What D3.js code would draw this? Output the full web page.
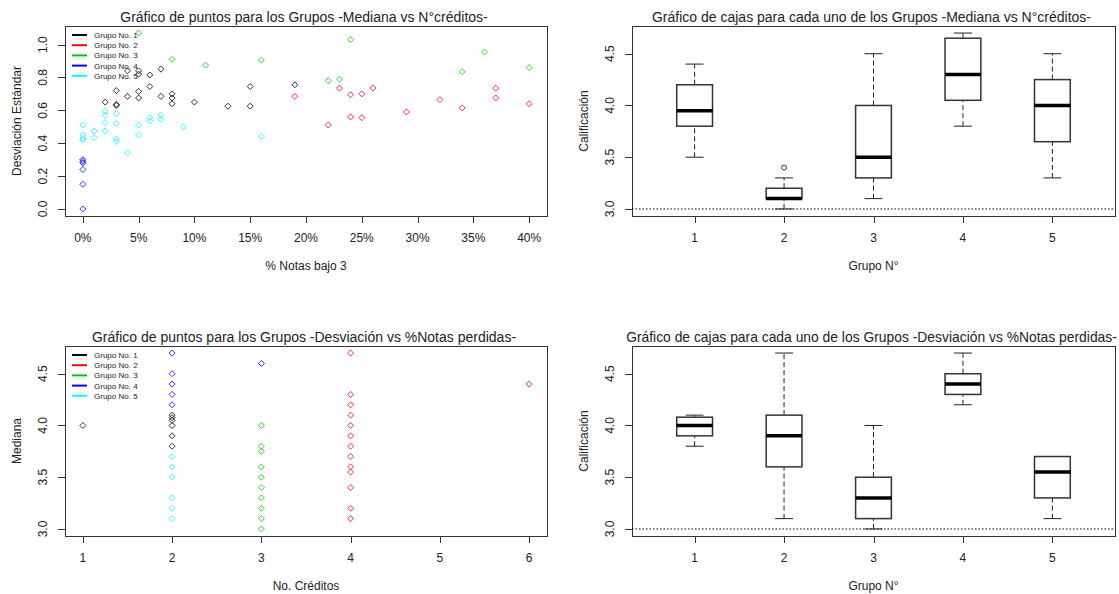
<!DOCTYPE html>
<html>
<head>
<meta charset="utf-8">
<script src="https://cdn.jsdelivr.net/npm/d3@7"></script>
<style>
body { margin: 0; background: #fff; }
text { font-family: "Liberation Sans", Arial, sans-serif; fill: #222; }
</style>
</head>
<body>
<script>
var grupos = ["Grupo No. 1", "Grupo No. 2", "Grupo No. 3", "Grupo No. 4", "Grupo No. 5"];
var colores = ["#000000", "#ff0000", "#00cd00", "#0000ff", "#00ffff"];

// Panel 1: % notas bajo 3 vs desviacion estandar, one list per group
var pctNotas = [
	[2, 3, 3, 3, 4, 4, 5, 5, 5, 5, 6, 6, 7, 7, 8, 8, 8, 10, 13, 15, 15, 19],
	[19, 22, 23, 24, 24, 25, 25, 26, 29, 32, 34, 37, 37, 40],
	[5, 8, 11, 16, 22, 23, 24, 34, 36, 40],
	[0, 0, 0, 0, 0, 0],
	[0, 0, 0, 0, 1, 1, 2, 2, 2, 2, 3, 3, 3, 3, 4, 5, 5, 6, 6, 7, 7, 9, 16]
];
var desviacion = [
	[0.65, 0.72, 0.635, 0.63, 0.685, 0.84, 0.84, 0.82, 0.715, 0.675, 0.815, 0.745, 0.85, 0.685, 0.70, 0.675, 0.64, 0.65, 0.625, 0.745, 0.625, 0.755],
	[0.685, 0.51, 0.735, 0.695, 0.56, 0.70, 0.555, 0.735, 0.59, 0.665, 0.615, 0.735, 0.675, 0.64],
	[1.07, 0.91, 0.875, 0.905, 0.78, 0.79, 1.03, 0.835, 0.955, 0.86],
	[0.0, 0.15, 0.24, 0.28, 0.29, 0.30],
	[0.51, 0.45, 0.43, 0.42, 0.475, 0.435, 0.595, 0.57, 0.525, 0.475, 0.58, 0.52, 0.425, 0.41, 0.34, 0.51, 0.45, 0.555, 0.535, 0.57, 0.545, 0.50, 0.44]
];

// Panel 3: numero de creditos vs mediana
var creditos = [
	[1, 2, 2, 2, 2, 2, 2],
	[4, 4, 4, 4, 4, 4, 4, 4, 4, 4, 4, 4, 4, 6],
	[3, 3, 3, 3, 3, 3, 3, 3, 3, 3],
	[2, 2, 2, 2, 2, 3],
	[2, 2, 2, 2, 2, 2]
];
var mediana = [
	[4.0, 4.1, 4.075, 4.05, 4.0, 3.9, 3.8],
	[4.7, 4.3, 4.2, 4.1, 4.0, 3.9, 3.8, 3.7, 3.6, 3.55, 3.4, 3.2, 3.1, 4.4],
	[4.0, 3.8, 3.75, 3.6, 3.5, 3.4, 3.3, 3.2, 3.1, 3.0],
	[4.7, 4.5, 4.4, 4.3, 4.2, 4.6],
	[3.7, 3.6, 3.5, 3.3, 3.2, 3.1]
];

// Box plots: [whisker low, q1, median, q3, whisker high]
var cajasCreditos = [
	[3.5, 3.8, 3.95, 4.2, 4.4],
	[3.0, 3.1, 3.1, 3.2, 3.3],
	[3.1, 3.3, 3.5, 4.0, 4.5],
	[3.8, 4.05, 4.3, 4.65, 4.7],
	[3.3, 3.65, 4.0, 4.25, 4.5]
];
var atipicosCreditos = [[], [3.4], [], [], []];
var cajasNotas = [
	[3.8, 3.9, 4.0, 4.08, 4.1],
	[3.1, 3.6, 3.9, 4.1, 4.7],
	[3.0, 3.1, 3.3, 3.5, 4.0],
	[4.2, 4.3, 4.4, 4.5, 4.7],
	[3.1, 3.3, 3.55, 3.7, 3.7]
];
var atipicosNotas = [[], [], [], [], []];

var pctTicks = [0, 5, 10, 15, 20, 25, 30, 35, 40];
var sdTicks = [0, 0.2, 0.4, 0.6, 0.8, 1.0];
var notaTicks = [3.0, 3.5, 4.0, 4.5];
var creditoTicks = [1, 2, 3, 4, 5, 6];
var grupoTicks = [1, 2, 3, 4, 5];

var width = 1119,
	height = 594;

var svg = d3.select("body").append("svg")
	.attr("width", width)
	.attr("height", height);

// R-like axis range: data range extended 4% on each side
function rango(lo, hi) {
	var d = (hi - lo) * 0.04;
	return [lo - d, hi + d];
}

function diamante(s) {
	return "M0," + (-s) + "L" + s + ",0L0," + s + "L" + (-s) + ",0Z";
}

function marco(box, titulo, xTitulo, yTitulo, x, y, xTicks, yTicks, xFmt, yFmt) {
	var g = svg.append("g");

	g.append("rect")
		.attr("x", box.x0 + 0.5)
		.attr("y", box.y0 + 0.5)
		.attr("width", box.x1 - box.x0)
		.attr("height", box.y1 - box.y0)
		.attr("fill", "none")
		.attr("stroke", "#333");

	// x axis (line only across the ticks, as R does)
	g.append("line")
		.attr("x1", x(xTicks[0])).attr("x2", x(xTicks[xTicks.length - 1]))
		.attr("y1", box.y1 + 0.5).attr("y2", box.y1 + 0.5)
		.attr("stroke", "#333");
	g.selectAll(".xt").data(xTicks).enter().append("line")
		.attr("x1", function(d) { return Math.round(x(d)) + 0.5; })
		.attr("x2", function(d) { return Math.round(x(d)) + 0.5; })
		.attr("y1", box.y1).attr("y2", box.y1 + 7)
		.attr("stroke", "#333");
	g.selectAll(".xl").data(xTicks).enter().append("text")
		.attr("x", function(d) { return x(d); })
		.attr("y", box.y1 + 26)
		.attr("text-anchor", "middle")
		.attr("font-size", 12)
		.text(xFmt);

	// y axis
	g.append("line")
		.attr("y1", y(yTicks[0])).attr("y2", y(yTicks[yTicks.length - 1]))
		.attr("x1", box.x0 + 0.5).attr("x2", box.x0 + 0.5)
		.attr("stroke", "#333");
	g.selectAll(".yt").data(yTicks).enter().append("line")
		.attr("y1", function(d) { return Math.round(y(d)) + 0.5; })
		.attr("y2", function(d) { return Math.round(y(d)) + 0.5; })
		.attr("x1", box.x0).attr("x2", box.x0 - 7)
		.attr("stroke", "#333");
	g.selectAll(".yl").data(yTicks).enter().append("text")
		.attr("transform", function(d) {
			return "translate(" + (box.x0 - 18) + "," + y(d) + ") rotate(-90)";
		})
		.attr("text-anchor", "middle")
		.attr("font-size", 12)
		.text(yFmt);

	// long titles are shrunk a little so they stay inside the page
	var tt = g.append("text")
		.attr("x", (box.x0 + box.x1) / 2 - 2)
		.attr("y", box.y0 - 4)
		.attr("text-anchor", "middle")
		.attr("font-size", 14)
		.text(titulo);
	var tw = tt.node().getComputedTextLength();
	var cx = (box.x0 + box.x1) / 2 - 2;
	if(cx + tw / 2 > width - 2) {
		tt.attr("font-size", 14 * (2 * (width - 2 - cx)) / tw);
	}

	g.append("text")
		.attr("x", (box.x0 + box.x1) / 2)
		.attr("y", box.y1 + 54)
		.attr("text-anchor", "middle")
		.attr("font-size", 12)
		.text(xTitulo);

	g.append("text")
		.attr("transform", "translate(" + (box.x0 - 44) + "," + ((box.y0 + box.y1) / 2) + ") rotate(-90)")
		.attr("text-anchor", "middle")
		.attr("font-size", 12)
		.text(yTitulo);

	return g;
}

function leyenda(box) {
	var g = svg.append("g");
	var fila = g.selectAll("g").data(grupos).enter().append("g")
		.attr("transform", function(d, i) {
			return "translate(" + (box.x0 + 7) + "," + (box.y0 + 9 + i * 10.2) + ")";
		});
	fila.append("line")
		.attr("x1", 0).attr("x2", 15)
		.attr("stroke", function(d, i) { return colores[i]; })
		.attr("stroke-width", 2);
	fila.append("text")
		.attr("x", 22)
		.attr("y", 3)
		.attr("font-size", 8)
		.text(function(d) { return d; });
}

function dispersion(box, xs, ys, x, y) {
	var puntos = [];
	for(var i = 0; i < xs.length; i++) {
		for(var j = 0; j < xs[i].length; j++) {
			puntos.push({ x: xs[i][j], y: ys[i][j], grupo: i });
		}
	}
	svg.append("g").selectAll("path")
		.data(puntos)
		.enter().append("path")
		.attr("d", diamante(3))
		.attr("transform", function(d) { return "translate(" + x(d.x) + "," + y(d.y) + ")"; })
		.attr("fill", "none")
		.attr("stroke", function(d) { return colores[d.grupo]; })
		.attr("stroke-opacity", 0.8)
		.attr("stroke-width", 1);
	leyenda(box);
}

function cajas(box, stats, atipicos, x, y) {
	var g = svg.append("g");
	var ancho = x(0.4) - x(0);
	var tope = ancho / 2;

	g.append("line")
		.attr("x1", box.x0).attr("x2", box.x1)
		.attr("y1", y(3)).attr("y2", y(3))
		.attr("stroke", "#000")
		.attr("stroke-dasharray", "1.5,2");

	var c = g.selectAll(".caja").data(stats).enter().append("g");

	// whiskers
	c.append("line")
		.attr("x1", function(d, i) { return x(i + 1); })
		.attr("x2", function(d, i) { return x(i + 1); })
		.attr("y1", function(d) { return y(d[0]); })
		.attr("y2", function(d) { return y(d[1]); })
		.attr("stroke", "#222").attr("stroke-dasharray", "5,3");
	c.append("line")
		.attr("x1", function(d, i) { return x(i + 1); })
		.attr("x2", function(d, i) { return x(i + 1); })
		.attr("y1", function(d) { return y(d[3]); })
		.attr("y2", function(d) { return y(d[4]); })
		.attr("stroke", "#222").attr("stroke-dasharray", "5,3");
	c.append("line")
		.attr("x1", function(d, i) { return x(i + 1) - tope / 2; })
		.attr("x2", function(d, i) { return x(i + 1) + tope / 2; })
		.attr("y1", function(d) { return y(d[0]); })
		.attr("y2", function(d) { return y(d[0]); })
		.attr("stroke", "#222");
	c.append("line")
		.attr("x1", function(d, i) { return x(i + 1) - tope / 2; })
		.attr("x2", function(d, i) { return x(i + 1) + tope / 2; })
		.attr("y1", function(d) { return y(d[4]); })
		.attr("y2", function(d) { return y(d[4]); })
		.attr("stroke", "#222");

	c.append("rect")
		.attr("x", function(d, i) { return x(i + 1) - ancho / 2; })
		.attr("width", ancho)
		.attr("y", function(d) { return y(d[3]); })
		.attr("height", function(d) { return y(d[1]) - y(d[3]); })
		.attr("fill", "#fff")
		.attr("stroke", "#333")
		.attr("stroke-width", 1.5);

	c.append("line")
		.attr("x1", function(d, i) { return x(i + 1) - ancho / 2; })
		.attr("x2", function(d, i) { return x(i + 1) + ancho / 2; })
		.attr("y1", function(d) { return y(d[2]); })
		.attr("y2", function(d) { return y(d[2]); })
		.attr("stroke", "#000")
		.attr("stroke-width", 3.5);

	for(var i = 0; i < atipicos.length; i++) {
		g.selectAll(".at" + i).data(atipicos[i]).enter().append("circle")
			.attr("cx", x(i + 1))
			.attr("cy", function(d) { return y(d); })
			.attr("r", 2.5)
			.attr("fill", "none")
			.attr("stroke", "#333");
	}
}

var izq = { x0: 65, x1: 547 },
	der = { x0: 632, x1: 1115 },
	arriba = { y0: 26, y1: 216 },
	abajo = { y0: 346, y1: 536 };

function panel(col, fila) {
	return { x0: col.x0, x1: col.x1, y0: fila.y0, y1: fila.y1 };
}

var pctFmt = function(d) { return d + "%"; };
var decFmt = d3.format(".1f");
var intFmt = d3.format("d");

// Panel 1
var b1 = panel(izq, arriba);
var x1 = d3.scaleLinear().domain(rango(0, 40)).range([b1.x0, b1.x1]);
var y1 = d3.scaleLinear().domain(rango(0, 1.07)).range([b1.y1, b1.y0]);
marco(b1, "Gráfico de puntos para los Grupos -Mediana vs N°créditos-",
	"% Notas bajo 3", "Desviación Estándar", x1, y1, pctTicks, sdTicks, pctFmt, decFmt);
dispersion(b1, pctNotas, desviacion, x1, y1);

// Panel 2
var b2 = panel(der, arriba);
var x2 = d3.scaleLinear().domain(rango(0.5, 5.5)).range([b2.x0, b2.x1]);
var y2 = d3.scaleLinear().domain(rango(3.0, 4.7)).range([b2.y1, b2.y0]);
marco(b2, "Gráfico de cajas para cada uno de los Grupos -Mediana vs N°créditos-",
	"Grupo N°", "Calificación", x2, y2, grupoTicks, notaTicks, intFmt, decFmt);
cajas(b2, cajasCreditos, atipicosCreditos, x2, y2);

// Panel 3
var b3 = panel(izq, abajo);
var x3 = d3.scaleLinear().domain(rango(1, 6)).range([b3.x0, b3.x1]);
var y3 = d3.scaleLinear().domain(rango(3.0, 4.7)).range([b3.y1, b3.y0]);
marco(b3, "Gráfico de puntos para los Grupos -Desviación vs %Notas perdidas-",
	"No. Créditos", "Mediana", x3, y3, creditoTicks, notaTicks, intFmt, decFmt);
dispersion(b3, creditos, mediana, x3, y3);

// Panel 4
var b4 = panel(der, abajo);
var x4 = d3.scaleLinear().domain(rango(0.5, 5.5)).range([b4.x0, b4.x1]);
var y4 = d3.scaleLinear().domain(rango(3.0, 4.7)).range([b4.y1, b4.y0]);
marco(b4, "Gráfico de cajas para cada uno de los Grupos -Desviación vs %Notas perdidas-",
	"Grupo N°", "Calificación", x4, y4, grupoTicks, notaTicks, intFmt, decFmt);
cajas(b4, cajasNotas, atipicosNotas, x4, y4);
</script>
</body>
</html>
